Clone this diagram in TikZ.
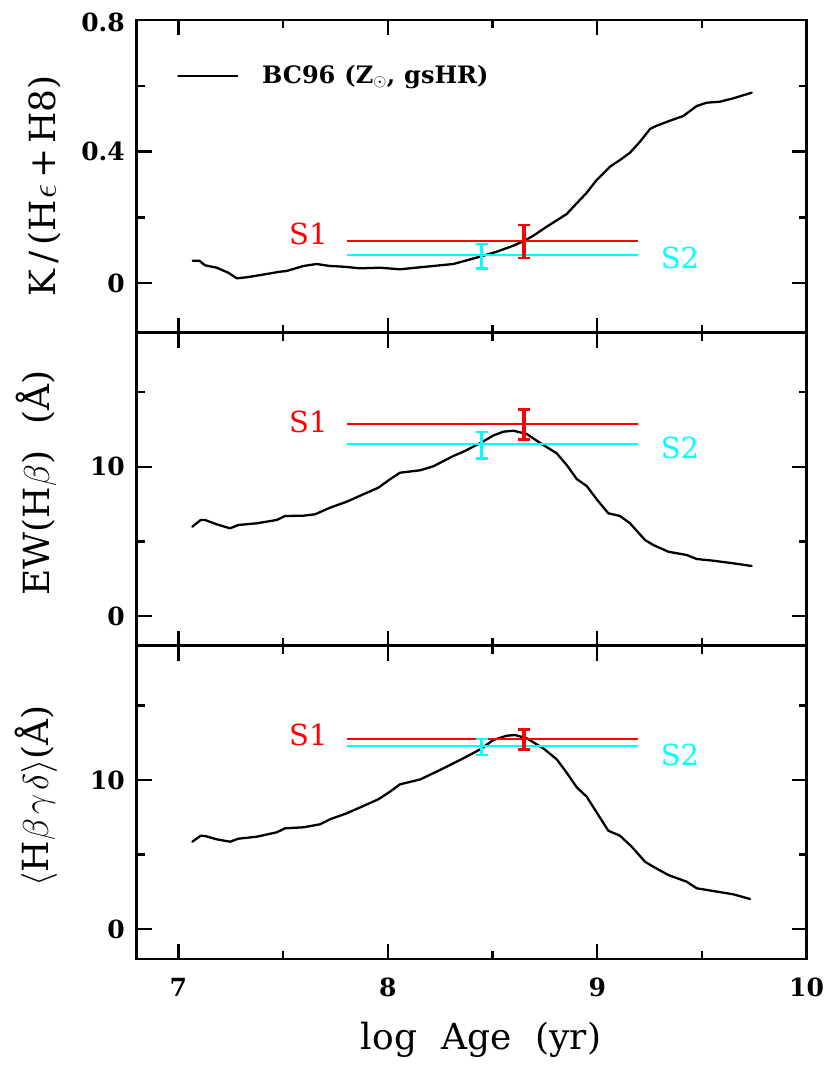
\RequirePackage{fix-cm}
\documentclass[tikz,border=0pt]{standalone}
\usepackage{fontspec}
\setmainfont{DejaVu Serif}
\definecolor{sred}{RGB}{255,0,0}
\definecolor{scyan}{RGB}{0,255,255}
\begin{document}
\begin{tikzpicture}[x=1pt,y=-1pt,
  frame/.style={line width=2.6pt},
  tickline/.style={line width=2.4pt},
  model/.style={line width=2.3pt,line join=round,line cap=round},
  sone/.style={sred,line width=2pt},
  stwo/.style={scyan,line width=2pt},
  ebar/.style={line width=3.4pt},
  ecap/.style={line width=2.4pt},
  ticklab/.style={font=\fontsize{25}{25}\selectfont\bfseries,inner sep=0pt},
  axlab/.style={font=\fontsize{36}{36}\selectfont,inner sep=0pt},
  slab/.style={font=\fontsize{29}{29}\selectfont,inner sep=0pt},
  leglab/.style={font=\fontsize{24}{24}\selectfont\bfseries,inner sep=0pt}]
\useasboundingbox (0,0) rectangle (830,1073);
\fill[white] (0,0) rectangle (830,1073);

% ---------- frames ----------
\draw[frame] (136.5,20) rectangle (806.5,959);
\draw[frame] (136.5,332.5) -- (806.5,332.5);
\draw[frame] (136.5,645.7) -- (806.5,645.7);

% ---------- x ticks (top and bottom of every panel) ----------
\foreach \yt/\yb in {20/332.5, 332.5/645.7, 645.7/959} {
  \foreach \v in {7,8,9} {
    \pgfmathsetmacro\px{136.5+(\v-6.8)*209.4}
    \draw[tickline] (\px,\yt) -- ++(0,15);
    \draw[tickline] (\px,\yb) -- ++(0,-15);
  }
  \foreach \v in {7.5,8.5,9.5} {
    \pgfmathsetmacro\px{136.5+(\v-6.8)*209.4}
    \draw[tickline] (\px,\yt) -- ++(0,8);
    \draw[tickline] (\px,\yb) -- ++(0,-8);
  }
}
% ---------- y ticks ----------
\foreach \v/\len in {0/15, 0.4/15, 0.2/8, 0.6/8} {
  \pgfmathsetmacro\py{20+(0.8-\v)*328.9}
  \draw[tickline] (136.5,\py) -- ++(\len,0);
  \draw[tickline] (806.5,\py) -- ++(-\len,0);
}
\foreach \top in {332.5, 645.7} {
  \foreach \v/\len in {0/15, 10/15, 5/8, 15/8} {
    \pgfmathsetmacro\py{\top+(19-\v)*14.914}
    \draw[tickline] (136.5,\py) -- ++(\len,0);
    \draw[tickline] (806.5,\py) -- ++(-\len,0);
  }
}

% ---------- tick labels ----------
\node[ticklab,anchor=east] (ta) at (125,22) {0.8};
\node[ticklab,anchor=east] (tb) at (125,151.6) {0.4};
\node[ticklab,anchor=east] (tc) at (125,283.2) {0};
\node[ticklab,anchor=east] (ma) at (125,466.7) {10};
\node[ticklab,anchor=east] (mb) at (125,615.9) {0};
\node[ticklab,anchor=east] (ba) at (125,779.9) {10};
\node[ticklab,anchor=east] (bb) at (125,929.1) {0};
\node[ticklab] (x7) at (178.4,987) {7};
\node[ticklab] (x8) at (387.8,987) {8};
\node[ticklab] (x9) at (597.2,987) {9};
\node[ticklab] (x10) at (806.6,987) {10};

% ---------- axis labels ----------
\node[axlab] (xlab) at (481,1040) {log\hspace{24pt}Age\hspace{24pt}(yr)};
\node[axlab,rotate=90] (ylt) at (45,186) {K\hspace{6pt}/\hspace{6pt}(H\hspace{2pt}$\epsilon$\hspace{5pt}+\hspace{5pt}H8)};
\node[axlab,rotate=90] (ylm) at (36,483) {EW(H$\beta$)\hspace{26pt}(Å)};
\node[axlab,rotate=90] (ylb) at (36,796) {$\langle$H\hspace{1pt}$\beta$\hspace{4pt}$\gamma$\hspace{4pt}$\delta\rangle$(Å)};

% ---------- legend ----------
\coordinate (lga) at (178.3,75.7);
\coordinate (lgb) at (237.3,75.7);
\draw[model] (lga) -- (lgb);
\node[leglab,anchor=base west] (leg) at (262,83) {BC96\hspace{9pt}(Z$_\odot$,\hspace{9pt}gsHR)};

% ---------- model curves ----------
\draw[model] (192.7,260.7) -- (199.3,260.7) -- (205,265.3) -- (216.7,267.7) -- (228.3,272.7) -- (236.7,278.3) -- (246.7,277.3) -- (266.7,274) -- (280,271.7) -- (286.7,271) -- (303.3,266) -- (316.7,264) -- (330,266) -- (343.3,266.7) -- (360,268.3) -- (380,267.7) -- (400,269.3) -- (420,267.3) -- (453.3,264) -- (480,256.7) -- (496.7,251.7) -- (513.3,245.7) -- (524,241) -- (533.3,235.7) -- (546.7,226.7) -- (560,218.3) -- (566.7,214) -- (576.7,203.3) -- (586.7,192.7) -- (596.7,180) -- (610,166.7) -- (620,160) -- (630,152.7) -- (640,141.7) -- (650,129) -- (656.7,125.7) -- (670,120.7) -- (683.3,116) -- (696.7,106) -- (706.7,102.7) -- (720,101.7) -- (733.3,98.3) -- (751.7,92.7);

\draw[model] (192.3,526.7) -- (200.7,520) -- (205,520) -- (216.7,524.3) -- (230,528.3) -- (238.3,525) -- (256.7,523.3) -- (276.7,520) -- (285,516) -- (303.3,515.7) -- (315,514.3) -- (330,507.7) -- (346.7,501.7) -- (363.3,494.3) -- (378.3,487.7) -- (390,479.3) -- (400,472.7) -- (420,470.3) -- (433.3,466.3) -- (453.3,456) -- (463.3,451.7) -- (480,443.3) -- (493.3,435.5) -- (503.3,431.7) -- (513.3,430.7) -- (526.7,434) -- (543.3,445) -- (556.7,453.3) -- (566.7,465) -- (576.7,479) -- (586.7,486) -- (596.7,499.3) -- (608.3,513.3) -- (620,516) -- (630,523.3) -- (645,540) -- (653.3,545) -- (668.3,551.7) -- (686.7,555) -- (696.7,559) -- (713.3,560.7) -- (733.3,563.3) -- (751.7,566);

\draw[model] (192.3,841.7) -- (200.7,835.7) -- (205,836) -- (216.7,839.3) -- (230,841.7) -- (238.3,838.7) -- (256.7,836.7) -- (276.7,832.3) -- (285,828.3) -- (303.3,827.3) -- (320,824.3) -- (330,819.3) -- (346.7,813.3) -- (363.3,806) -- (378.3,799.3) -- (390,791.7) -- (400,784.3) -- (420,779.5) -- (440,770) -- (463.3,758.3) -- (480,749.5) -- (493.3,740) -- (506.7,735.7) -- (515,735) -- (526.7,738.3) -- (543.3,748.3) -- (556.7,759.3) -- (566.7,772.7) -- (576.7,787.3) -- (586.7,796.7) -- (598.3,815) -- (608.3,830.7) -- (620,835.7) -- (631.7,846.7) -- (645,861.7) -- (653.3,866.7) -- (668.3,875) -- (686.7,881.7) -- (696.7,888.3) -- (713.3,891) -- (733.3,894.3) -- (750,899);

% ---------- S1 / S2 measurements ----------
\foreach \ry/\cy/\rt/\rb/\ct/\cb/\sy/\ty in
  {241/255/225/258/244/268.3/234/258.3,
   424/444.3/409.3/439.3/431.7/458.3/421.7/448.3,
   739.3/746.3/729.3/749.3/739/755/735/755} {
  \draw[sone] (346.7,\ry) -- (638.3,\ry);
  \draw[stwo] (346.7,\cy) -- (638.3,\cy);
  \draw[sred,ebar] (524,\rt) -- (524,\rb);
  \draw[sred,ecap] (518,\rt) -- (530,\rt);
  \draw[sred,ecap] (518,\rb) -- (530,\rb);
  \draw[scyan,ebar] (481.5,\ct) -- (481.5,\cb);
  \draw[scyan,ecap] (475.5,\ct) -- (487.5,\ct);
  \draw[scyan,ecap] (475.5,\cb) -- (487.5,\cb);
  \node[slab,text=sred] at (308.3,\sy) {S1};
  \node[slab,text=scyan] at (680,\ty) {S2};
}
\end{tikzpicture}
\end{document}
